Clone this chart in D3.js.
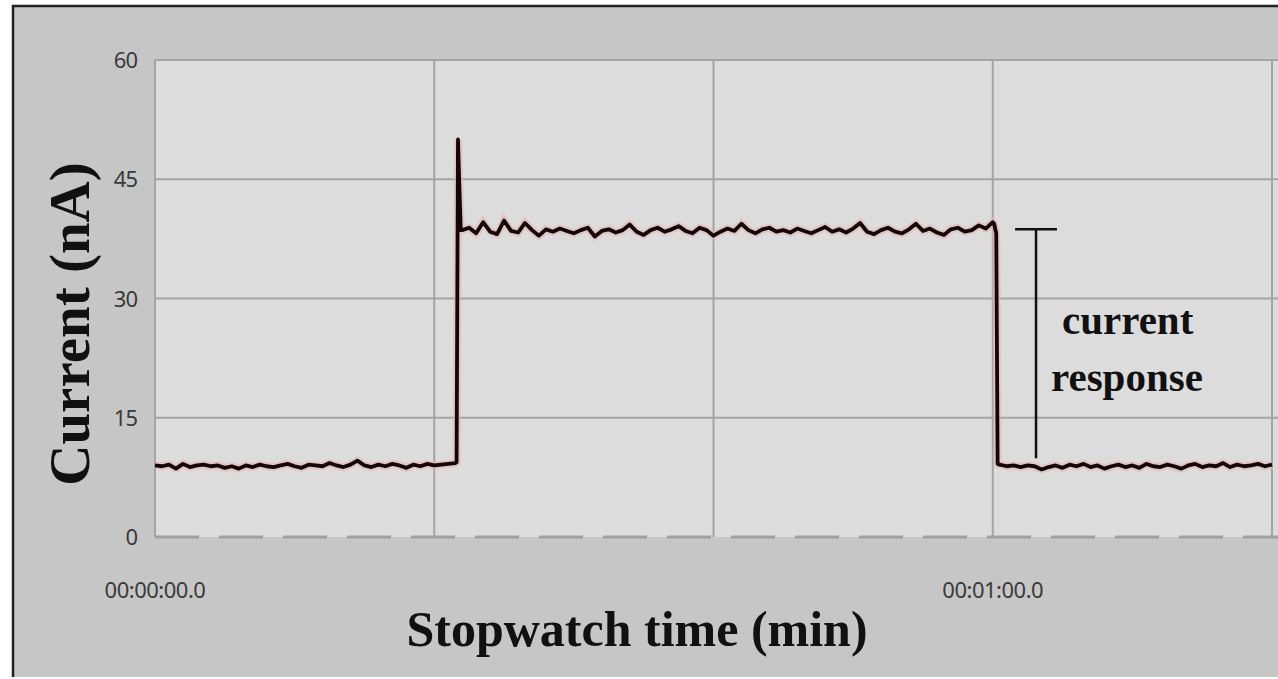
<!DOCTYPE html>
<html>
<head>
<meta charset="utf-8">
<script src="https://cdn.jsdelivr.net/npm/d3@7"></script>
<style>
  html, body { margin: 0; padding: 0; background: #fff; }
  svg { display: block; }
  .tick-label { font-family: 'Noto Sans', 'Open Sans', sans-serif; font-size: 22px; fill: #3a3a3a; }
  .axis-title { font-family: 'Liberation Serif', 'Times New Roman', serif; font-weight: bold; fill: #111; }
  .note { font-family: 'Liberation Serif', 'Times New Roman', serif; font-weight: bold; font-size: 41px; fill: #111; }
</style>
</head>
<body>
<div id="app"></div>
<script>
// y ticks (nA) and x ticks (seconds, labelled as stopwatch time)
const yTicks = [0, 15, 30, 45, 60]
const xGrid = [0, 20, 40, 60, 80]
const xLabels = [
  { t: 0, label: '00:00:00.0' },
  { t: 60, label: '00:01:00.0' },
]

const baseA = { start: 0, step: 0.5, values: [
  9.0, 8.9, 9.1, 8.6, 9.2, 8.8, 9.0, 9.1, 8.9, 9.0, 8.7, 8.9, 8.6, 9.0, 8.8, 9.1,
  8.9, 8.8, 9.0, 9.2, 8.9, 8.7, 9.1, 9.0, 8.9, 9.3, 9.0, 8.8, 9.1, 9.6, 9.0, 8.8,
  9.1, 8.9, 9.2, 9.0, 8.7, 9.1, 8.9, 9.2, 9.0, 9.1, 9.2, 9.3,
] }
// switch-on: spike then plateau
const rise = [
  { t: 21.6, v: 9.4 }, { t: 21.7, v: 50.0 }, { t: 21.8, v: 44.0 }, { t: 21.9, v: 38.6 },
]
const plateau = { start: 22.0, step: 0.5, values: [
  38.6, 38.9, 38.2, 39.6, 38.4, 38.1, 39.8, 38.5, 38.3, 39.5, 38.6, 37.9, 38.7, 38.4,
  38.8, 38.5, 38.2, 38.6, 38.9, 37.8, 38.5, 38.7, 38.3, 38.6, 39.3, 38.4, 38.0, 38.6,
  38.9, 38.4, 38.7, 39.1, 38.5, 38.2, 38.9, 38.6, 37.9, 38.4, 38.8, 38.5, 39.4, 38.6,
  38.2, 38.7, 38.9, 38.4, 38.6, 38.3, 38.8, 38.5, 38.2, 38.6, 39.0, 38.4, 38.7, 38.3,
  38.8, 39.5, 38.4, 38.1, 38.6, 38.9, 38.4, 38.2, 38.7, 39.4, 38.5, 38.8, 38.3, 38.0,
  38.7, 38.9, 38.4, 38.6, 39.2, 38.8, 39.6,
] }
// switch-off
const fall = [
  { t: 60.1, v: 39.4 }, { t: 60.25, v: 38.2 }, { t: 60.35, v: 9.2 },
]
const baseB = { start: 60.5, step: 0.5, values: [
  9.1, 8.9, 9.0, 8.8, 9.0, 8.9, 8.5, 8.8, 9.0, 8.7, 9.1, 8.9, 9.2, 8.8, 9.0, 8.6,
  8.9, 9.1, 8.8, 9.0, 8.7, 9.2, 8.9, 8.8, 9.1, 8.9, 8.6, 9.0, 9.2, 8.8, 9.0, 8.9,
  9.3, 8.8, 9.1, 8.9, 9.0, 9.2, 8.9, 9.1,
] }

// "current response" bracket
const bracketT = 63.1
const bracketTop = 38.7
const bracketBottom = 9.9
const bracketHalf = 1.5

const W = 1278, H = 679
const plot = { left: 155, top: 60, right: 1272, bottom: 537 }

const expand = s => s.values.map((v, i) => ({ t: s.start + i * s.step, v }))
const series = [
  ...expand(baseA),
  ...rise,
  ...expand(plateau).filter(d => d.t < 60.1),
  ...fall,
  ...expand(baseB).filter(d => d.t <= 80),
]

const x = d3.scaleLinear().domain([0, 80]).range([plot.left, plot.right])
const y = d3.scaleLinear().domain([0, 60]).range([plot.bottom, plot.top])

const svg = d3.select('#app').append('svg')
  .attr('width', W).attr('height', H)

// frame
svg.append('rect').attr('x', 0).attr('y', 0).attr('width', W).attr('height', H).attr('fill', '#fff')
svg.append('rect')
  .attr('x', 13).attr('y', 6).attr('width', W - 13).attr('height', H - 8)
  .attr('fill', '#c6c6c6')
svg.append('path')
  .attr('d', `M13,${H - 2} V6 H${W}`)
  .attr('fill', 'none').attr('stroke', '#222').attr('stroke-width', 2.5)

// plot background
svg.append('rect')
  .attr('x', plot.left).attr('y', plot.top)
  .attr('width', W - plot.left).attr('height', plot.bottom - plot.top)
  .attr('fill', '#dcdcdc')

// horizontal gridlines
svg.append('g')
  .selectAll('line')
  .data(yTicks.filter(d => d > 0))
  .join('line')
  .attr('x1', plot.left).attr('x2', W)
  .attr('y1', d => y(d)).attr('y2', d => y(d))
  .attr('stroke', '#a4a4a4').attr('stroke-width', 2)

// vertical gridlines
svg.append('g')
  .selectAll('line')
  .data(xGrid)
  .join('line')
  .attr('x1', d => x(d)).attr('x2', d => x(d))
  .attr('y1', plot.top).attr('y2', plot.bottom)
  .attr('stroke', '#a4a4a4').attr('stroke-width', 2)

// dashed zero line
svg.append('line')
  .attr('x1', plot.left).attr('x2', W)
  .attr('y1', y(0)).attr('y2', y(0))
  .attr('stroke', '#a0a0a0').attr('stroke-width', 3)
  .attr('stroke-dasharray', '44 20')

// y tick labels
svg.append('g')
  .selectAll('text')
  .data(yTicks)
  .join('text')
  .attr('class', 'tick-label')
  .attr('x', 137).attr('y', d => y(d) + 8)
  .attr('text-anchor', 'end')
  .attr('letter-spacing', -1)
  .text(d => d)

// x tick labels
svg.append('g')
  .selectAll('text')
  .data(xLabels)
  .join('text')
  .attr('class', 'tick-label')
  .attr('x', d => x(d.t)).attr('y', 598)
  .attr('text-anchor', 'middle')
  .attr('letter-spacing', -0.5)
  .text(d => d.label)

// trace
const line = d3.line().x(d => x(d.t)).y(d => y(d.v))
svg.append('path')
  .datum(series)
  .attr('d', line)
  .attr('fill', 'none')
  .attr('stroke', '#e6b4b8').attr('stroke-width', 8).attr('opacity', 0.6)
svg.append('path')
  .datum(series)
  .attr('d', line)
  .attr('fill', 'none')
  .attr('stroke', '#120606').attr('stroke-width', 3.8)
  .attr('stroke-linejoin', 'round')

// bracket
svg.append('line')
  .attr('x1', x(bracketT - bracketHalf)).attr('x2', x(bracketT + bracketHalf))
  .attr('y1', y(bracketTop)).attr('y2', y(bracketTop))
  .attr('stroke', '#111').attr('stroke-width', 2.5)
svg.append('line')
  .attr('x1', x(bracketT)).attr('x2', x(bracketT))
  .attr('y1', y(bracketTop)).attr('y2', y(bracketBottom))
  .attr('stroke', '#111').attr('stroke-width', 2.5)

svg.append('text').attr('class', 'note')
  .attr('x', 1062).attr('y', 334).text('current')
svg.append('text').attr('class', 'note')
  .attr('x', 1051).attr('y', 391).text('response')

// axis titles
svg.append('text')
  .attr('class', 'axis-title')
  .attr('transform', `translate(89,${324}) rotate(-90)`)
  .attr('text-anchor', 'middle')
  .attr('font-size', 57)
  .text('Current (nA)')

svg.append('text')
  .attr('class', 'axis-title')
  .attr('x', 637).attr('y', 646)
  .attr('text-anchor', 'middle')
  .attr('font-size', 50)
  .text('Stopwatch time (min)')
</script>
</body>
</html>
